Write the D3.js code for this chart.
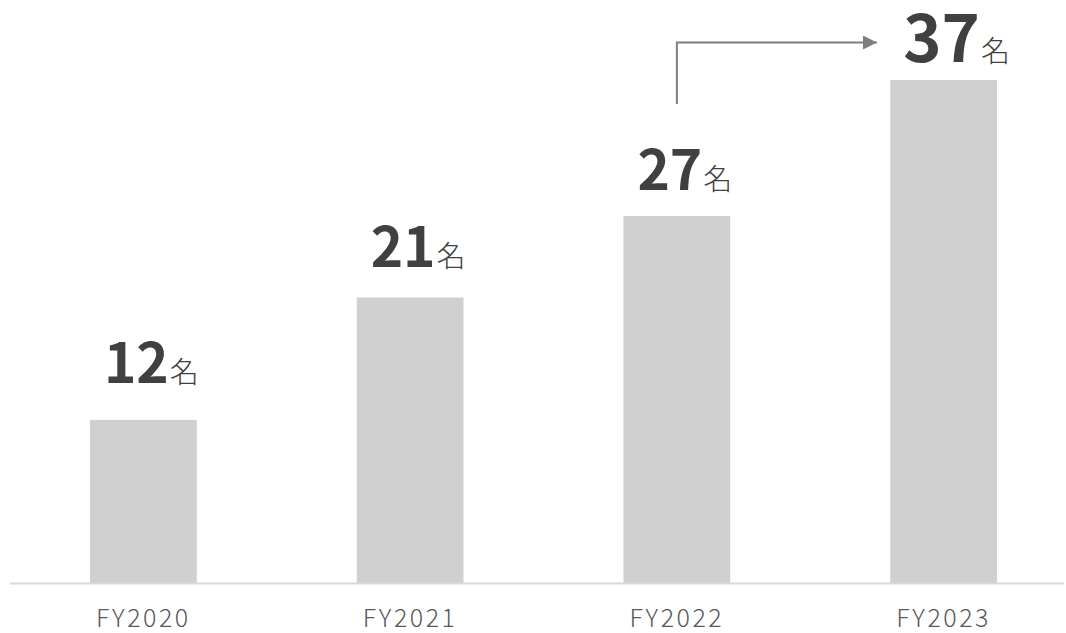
<!DOCTYPE html>
<html>
<head>
<meta charset="utf-8">
<script src="https://d3js.org/d3.v7.min.js"></script>
<style>
  html, body { margin: 0; padding: 0; background: #fff; }
  svg { display: block; }
</style>
</head>
<body>
<div id="chart"></div>
<script>
// data
const categories = ['FY2020', 'FY2021', 'FY2022', 'FY2023'];
const values = [12, 21, 27, 37];
const unit = '名';

const width = 1066, height = 633;
const baseY = 583;

const svg = d3.select('#chart')
    .append('svg')
    .attr('width', width)
    .attr('height', height);

const x = d3.scaleBand()
    .domain(categories)
    .range([10, 1077])
    .paddingInner(0.6)
    .paddingOuter(0.3);

const y = d3.scaleLinear()
    .domain([0, d3.max(values)])
    .range([baseY, 80]);

// labels sit on their own (slightly flatter) scale
const labelY = d3.scaleLinear()
    .domain([0, d3.max(values)])
    .range([537, 62]);

const font = '"Noto Sans CJK JP", "Noto Sans", sans-serif';
const last = values.length - 1;

// bars
svg.selectAll('.bar')
    .data(values)
    .enter()
    .append('rect')
    .attr('class', 'bar')
    .attr('x', (d, i) => x(categories[i]))
    .attr('y', d => y(d))
    .attr('width', x.bandwidth())
    .attr('height', d => baseY - y(d))
    .attr('fill', '#d0d0d0');

// baseline
svg.append('line')
    .attr('x1', 10).attr('x2', 1064)
    .attr('y1', baseY + 0.5).attr('y2', baseY + 0.5)
    .attr('stroke', '#d9d9d9')
    .attr('stroke-width', 2);

// category labels
svg.selectAll('.cat')
    .data(categories)
    .enter()
    .append('text')
    .attr('class', 'cat')
    .attr('x', d => x(d) + x.bandwidth() / 2)
    .attr('y', 627)
    .attr('text-anchor', 'middle')
    .attr('font-family', font)
    .attr('font-size', '25px')
    .attr('font-weight', 300)
    .attr('letter-spacing', '2.5px')
    .attr('fill', '#595959')
    .text(d => d);

// value labels (latest year drawn a bit larger)
const lab = svg.selectAll('.val')
    .data(values)
    .enter()
    .append('text')
    .attr('class', 'val')
    .attr('x', (d, i) => x(categories[i]) + x.bandwidth() / 2 + (i === last ? 13 : 8))
    .attr('y', d => labelY(d))
    .attr('text-anchor', 'middle')
    .attr('font-family', font)
    .attr('fill', '#404040');

lab.append('tspan')
    .attr('font-size', (d, i) => i === last ? '65px' : '55px')
    .attr('font-weight', 700)
    .text(d => d);

lab.append('tspan')
    .attr('font-size', '29px')
    .attr('font-weight', 300)
    .attr('dx', 1)
    .text(unit);

// growth arrow from FY2022 to FY2023
const ax = x(categories[2]) + x.bandwidth() / 2;
svg.append('defs').append('marker')
    .attr('id', 'arrowhead')
    .attr('viewBox', '0 0 10 10')
    .attr('refX', 10).attr('refY', 5)
    .attr('markerWidth', 15).attr('markerHeight', 14)
    .attr('markerUnits', 'userSpaceOnUse')
    .attr('orient', 'auto')
    .append('path')
    .attr('d', 'M0,0 L10,5 L0,10 Z')
    .attr('fill', '#7f7f7f');

svg.append('path')
    .attr('d', `M${ax},104 V42.5 H877`)
    .attr('fill', 'none')
    .attr('stroke', '#7f7f7f')
    .attr('stroke-width', 2)
    .attr('marker-end', 'url(#arrowhead)');
</script>
</body>
</html>
